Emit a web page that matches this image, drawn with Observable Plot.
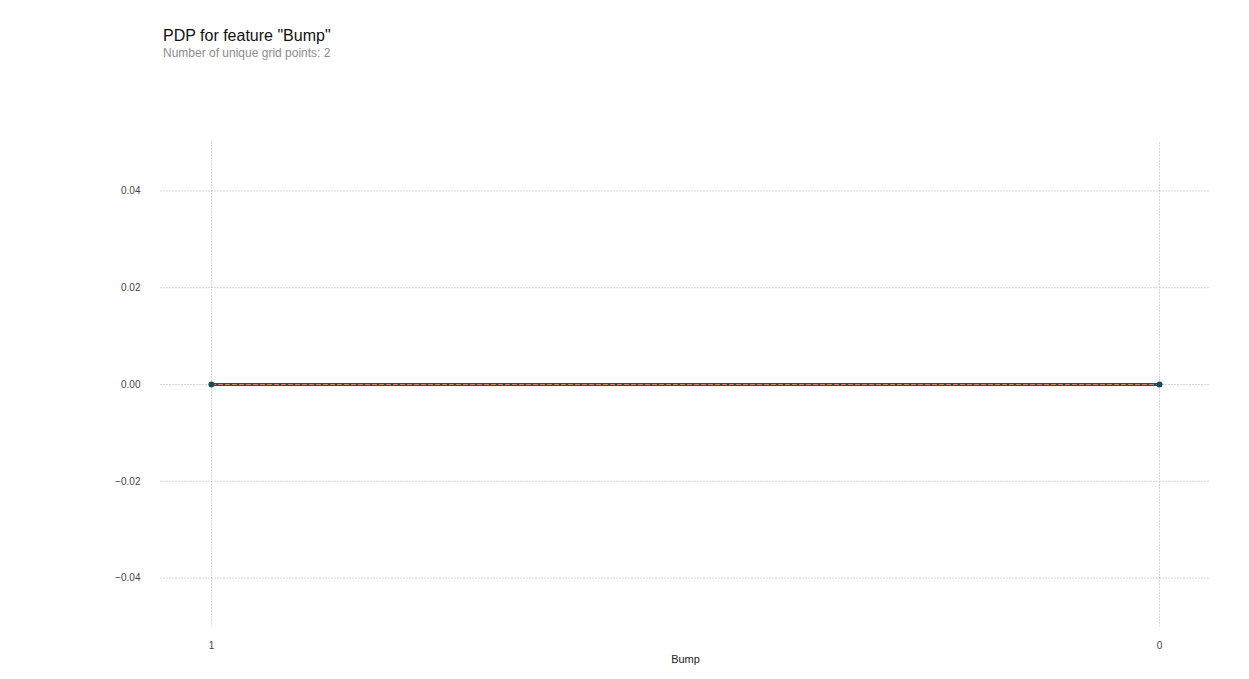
<!DOCTYPE html>
<html>
<head>
<meta charset="utf-8">
<script src="https://cdn.jsdelivr.net/npm/d3@7"></script>
<script src="https://cdn.jsdelivr.net/npm/@observablehq/plot@0.6"></script>
<style>
  body { margin: 0; background: #fff; font-family: "Liberation Sans", Arial, sans-serif; }
  #wrap { position: relative; width: 1249px; height: 679px; }
  #title { position: absolute; left: 163px; top: 27px; font-size: 16px; color: #111; }
  #subtitle { position: absolute; left: 163px; top: 46px; font-size: 12px; color: #8c8c8c; }
  #chart { position: absolute; left: 0; top: 0; }
</style>
</head>
<body>
<div id="wrap">
  <div id="chart"></div>
  <div id="title">PDP for feature "Bump"</div>
  <div id="subtitle">Number of unique grid points: 2</div>
</div>
<script>
// grid points and pdp values
const gridLabels = ["1", "0"]
const pdpValues = [0, 0]
const yTicks = [-0.04, -0.02, 0, 0.02, 0.04]

const data = gridLabels.map((g, i) => ({ g, v: pdpValues[i] }))

let chart = Plot.plot({
  width: 1249,
  height: 679,
  marginLeft: 160,
  marginRight: 39,
  marginTop: 142,
  marginBottom: 53,
  style: { fontFamily: "Liberation Sans, Arial, sans-serif", fontSize: "10px", color: "#444" },
  x: { type: "point", domain: gridLabels, padding: 0.0536, label: null },
  y: { domain: [-0.05, 0.05], label: null },
  marks: [
    Plot.gridY(yTicks, { stroke: "#bbb", strokeOpacity: 1, strokeDasharray: "2,1", strokeWidth: 0.6 }),
    Plot.gridX(gridLabels, { stroke: "#bbb", strokeOpacity: 1, strokeDasharray: "2,1", strokeWidth: 0.6 }),
    Plot.axisY(yTicks, { tickSize: 0, tickPadding: 20, tickFormat: ".2f" }),
    Plot.axisX(gridLabels, { tickSize: 0, tickPadding: 15 }),
    Plot.text(["Bump"], { frameAnchor: "bottom", dy: 36, fontSize: 11, fill: "#222", text: d => d }),
    Plot.line(data, { x: "g", y: "v", stroke: "#1e5566", strokeWidth: 3 }),
    Plot.line(data, { x: "g", y: "v", stroke: "#f07b5e", strokeWidth: 1, strokeDasharray: "4,3" }),
    Plot.dot(data, { x: "g", y: "v", r: 3, fill: "#1e4a58" })
  ]
})
d3.select('#chart').append(() => chart)
</script>
</body>
</html>
